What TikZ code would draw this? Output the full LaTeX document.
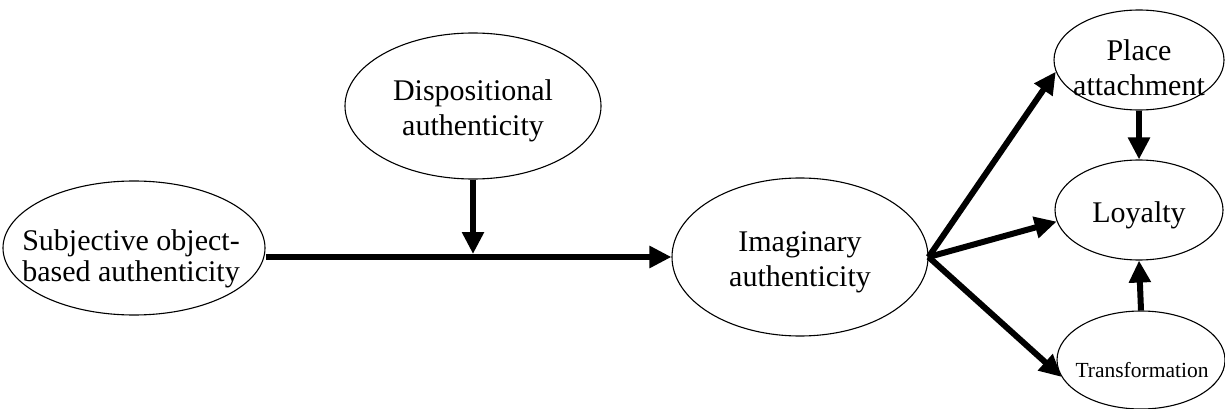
\documentclass[tikz,border=0pt]{standalone}
\usepackage{fontspec}
\setmainfont{Liberation Serif}
\usetikzlibrary{shapes.geometric,arrows.meta}

\tikzset{
  construct/.style={ellipse, draw=black, line width=1.1pt, inner sep=0pt, fill=white},
  caption/.style={align=center, inner sep=0pt, font=\fontsize{30}{35}\selectfont},
  smallcaption/.style={align=center, inner sep=0pt, font=\fontsize{21.5}{25}\selectfont},
  path/.style={line width=6pt, -{Triangle[length=22pt,width=21pt]}},
}

\begin{document}
\begin{tikzpicture}[x=1pt,y=-1pt]
  \useasboundingbox (0,0) rectangle (1225,409);

  % ellipses of the model
  \node[construct, minimum width=262pt, minimum height=134pt] (subj)  at (134,248) {};
  \node[construct, minimum width=256pt, minimum height=146pt] (disp)  at (473,106) {};
  \node[construct, minimum width=256pt, minimum height=158pt] (imag)  at (800,257) {};
  \node[construct, minimum width=170pt, minimum height=100pt] (place) at (1139,60) {};
  \node[construct, minimum width=168pt, minimum height=100pt] (loyal) at (1139,210) {};
  \node[construct, minimum width=168pt, minimum height=98pt]  (trans) at (1141,360) {};

  % labels inside the ellipses
  \node[caption, font=\fontsize{30}{31}\selectfont] (subjText) at (131,259) {Subjective object-\\based authenticity};
  \node[caption] (dispText)  at (473,111) {Dispositional\\authenticity};
  \node[caption] (imagText)  at (800,262) {Imaginary\\authenticity};
  \node[caption] (placeText) at (1139,68) {Place\\attachment};
  \node[caption] (loyalText) at (1139,215) {Loyalty};
  \node[smallcaption] (transText) at (1142,370) {Transformation};

  % main path and moderating arrow
  \draw[path] (subj.east |- imag.west) -- (imag.west);
  \coordinate (join) at (disp.south |- imag.west);
  \draw[path, shorten >=3pt] (disp.south) -- (join);

  % outcomes
  \draw[path] (imag.east) -- (place.188);
  \draw[path] (imag.east) -- (loyal.188);
  \draw[path] (imag.east) -- (trans.192);
  \draw[path] (place.south) -- (loyal.north);
  \draw[path] (trans.north) -- (loyal.south);
\end{tikzpicture}
\end{document}
